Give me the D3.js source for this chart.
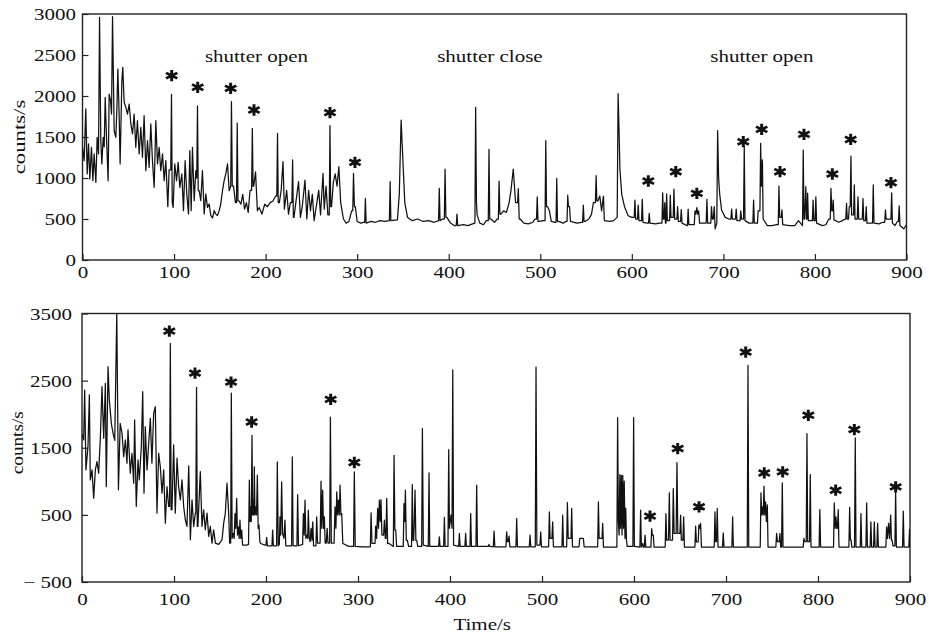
<!DOCTYPE html>
<html>
<head>
<meta charset="utf-8">
<script src="https://cdn.jsdelivr.net/npm/d3@7"></script>
<style>
    body { margin: 0; background: #fff; }
    svg text { font-family: "Liberation Serif", "Times New Roman", serif; fill: #111; }
</style>
</head>
<body>
<div id="chart"></div>
<script>

// ---- data (time in s, counts/s) ----
var timeTicks = [0, 100, 200, 300, 400, 500, 600, 700, 800, 900];
var topTicks = [0, 500, 1000, 1500, 2000, 2500, 3000];
var topTickLabels = ["0", "500", "1000", "1500", "2000", "2500", "3000"];
var bottomTicks = [-500, 500, 1500, 2500, 3500];
var bottomTickLabels = ["\u2212 500", "500", "1500", "2500", "3500"];

var shutterLabels = ["shutter open", "shutter close", "shutter open"];
var shutterTimes = [190, 445, 742];

var topSeries = [
    [0,1374],[1.8,1211],[3.6,1842],[5.1,1049],[6.6,1415],[8,988],[9.8,1374],[11.3,967],[12.7,1293],[14.6,947],
    [16,1496],[17.5,1293],[18.6,2959],[20,1455],[21.1,1171],[22.6,1496],[23.7,1380],[24.8,1984],[26.2,1496],[28,967],
    [29.1,2024],[30.6,1943],[31.7,1780],[32.8,2967],[34.6,1577],[36.4,1496],[37.5,1821],[38.6,2329],[40,1780],[41.1,1171],
    [43,2187],[44,2350],[45.5,1923],[47.3,1862],[49.1,1780],[51,1902],[52.8,1659],[54.6,1537],[56.4,1780],[58.2,1374],
    [60,1699],[61.9,1293],[63.7,1618],[65.5,1252],[67.3,1760],[69.2,1089],[71,1455],[72.8,1130],[74.6,1659],[76.4,1211],
    [78.3,886],[80.1,1699],[81.9,1171],[83.7,1374],[85.5,1089],[87.4,1293],[89.2,967],[91,1211],[93.2,650],[94.6,1100],
    [96.4,1100],[97.2,2020],[98,700],[99,642],[100.8,1171],[102.7,967],[104.5,1191],[106.3,886],[108.5,1049],[110.3,602],
    [112.1,1211],[113.9,805],[115.8,561],[117.2,1333],[118.7,602],[120.1,1374],[122,724],[123.8,1089],[124.8,1000],[125.6,1880],
    [126.4,845],[127.4,845],[129.2,724],[131,1089],[132.9,561],[134.7,805],[136.5,642],[138.3,683],[140.2,541],[142,512],
    [143.8,602],[145.6,560],[147.4,541],[149.3,602],[151,683],[152.9,845],[154.7,967],[156.5,1049],[158.4,1171],[160.2,845],
    [161.9,900],[162.7,1930],[163.6,900],[165,900],[167,700],[168.2,700],[169,1670],[169.8,720],[171,720],[173,680],
    [175,800],[177,620],[179,700],[181,580],[183,850],[184.7,850],[185.5,1605],[186.3,900],[187,900],[189,1075],
    [191,600],[193,640],[196,560],[199,680],[202,650],[205,700],[208,720],[211,780],[212.2,780],[213,1545],
    [213.8,700],[215,700],[217,850],[219,1200],[220.5,620],[223,850],[225,560],[227,700],[228.7,700],[229.5,1220],
    [230.3,520],[231,520],[233,700],[236,955],[238,520],[240,650],[243,975],[245,500],[247,850],[249,600],
    [251,800],[253,480],[256,700],[258,850],[260,550],[262.7,1057],[264,620],[266,900],[268,550],[269.5,550],
    [270.3,1638],[271.1,650],[272,650],[274,950],[276,1050],[278,900],[280,1138],[282,700],[285,500],[288,450],
    [291,470],[294,600],[295.2,600],[296,1057],[297,650],[298,650],[300,470],[304,450],[307,460],[308.2,460],
    [309,750],[309.8,450],[315,470],[320,460],[325,480],[330,470],[335.2,480],[336,955],[336.8,480],[344,490],
    [346,800],[348,1707],[350,1200],[352,700],[355,520],[360,480],[366,500],[372,470],[378,480],[384,460],
    [388.9,480],[389.7,875],[390.5,480],[393,500],[395.2,500],[396,1108],[396.9,520],[398,520],[402,450],[406,420],
    [408.2,420],[409,560],[409.8,420],[416,430],[421,420],[426,440],[428.6,450],[429.4,1862],[430.3,700],[431,550],
    [434,450],[438,430],[441,480],[443.2,480],[444,1350],[444.8,500],[446,500],[450,460],[453,500],[454.2,500],
    [455,963],[455.9,560],[457,560],[460,600],[463,580],[466,700],[468,850],[470.5,1108],[473,700],[475.2,700],
    [476,870],[477,500],[478,500],[482,450],[487,440],[492,460],[494,500],[495.9,500],[496.7,770],[497.5,470],
    [499,470],[503,480],[505.2,480],[506,1455],[506.8,650],[508,650],[510,600],[512,470],[516,460],[517.2,460],
    [518,995],[518.8,470],[520,470],[525,450],[528,470],[529.2,470],[530,790],[530.8,650],[532,650],[533,470],
    [540,450],[545,460],[546.2,460],[547,670],[547.8,470],[549,470],[553,500],[556,560],[558,700],[560.2,700],
    [561,1028],[561.8,720],[563,720],[565,780],[567,600],[569,780],[570,480],[576,470],[580,480],[584,520],
    [585,2030],[586,1600],[587,1100],[589,800],[592,650],[596,540],[600,520],[602.6,520],[603.4,731],[604.2,500],
    [606.2,500],[607,670],[607.8,480],[610.6,480],[611.4,740],[612.2,460],[617,450],[618.2,450],[619,570],[619.8,450],
    [626,440],[630,450],[632.9,450],[633.7,820],[634.5,500],[635.3,500],[636,700],[636.7,450],[637.3,450],[638,805],
    [638.8,480],[641.2,480],[642,790],[642.8,520],[645.2,520],[646,864],[646.8,500],[648,500],[649.2,500],[650,650],
    [650.8,470],[653.2,470],[654,615],[654.8,450],[660,420],[660.7,420],[661.5,620],[662.3,430],[666,430],[668.2,430],
    [669,600],[670,560],[671,640],[672,560],[673,600],[674,450],[680,450],[681.2,450],[682,740],[682.8,450],
    [686.2,450],[687,650],[688,500],[689,500],[690,650],[691,380],[692.8,450],[693.7,1577],[694.8,1000],[696,800],
    [698,610],[702,520],[706,500],[708.2,500],[709,620],[709.8,500],[713.2,500],[714,620],[714.8,480],[718.2,480],
    [719,600],[719.8,500],[722,500],[722.8,1390],[723.6,480],[728,450],[731,450],[732.2,450],[733,730],[733.8,450],
    [737.2,450],[738,600],[739.9,600],[740.7,1423],[741.5,900],[742.6,1220],[743.4,500],[748,420],[753,420],[758,430],
    [759.9,430],[760.7,902],[761.5,520],[763.2,520],[764,610],[764.8,430],[772,420],[778,420],[782,480],[786.4,420],
    [787.2,1341],[788,500],[788.8,500],[790,895],[790.8,500],[791.4,500],[792,815],[792.8,480],[797.2,480],[798,730],
    [798.8,480],[800.2,480],[801,770],[801.8,450],[808,420],[812,430],[815,500],[816.7,500],[817.5,874],[818.4,600],
    [819.2,600],[820,730],[820.8,490],[826,460],[830,480],[833,500],[833.7,500],[834.5,690],[835.3,500],[836.7,500],
    [837.5,650],[838.5,650],[839.3,1268],[840.1,550],[842.2,550],[843,915],[843.8,500],[846.2,500],[847,770],[847.8,500],
    [851.7,500],[852.5,750],[853.3,480],[855.2,480],[856,650],[856.8,450],[862.9,450],[863.7,915],[864.5,450],[870,440],
    [874,460],[876.2,460],[877,610],[877.8,500],[883,500],[883.8,820],[884.6,450],[887.4,420],[890,470],[891.2,470],
    [892,660],[892.8,420],[897,380],[900,430]
];

var bottomSeries = [
    [0,1700],[1.8,1616],[2.9,2360],[4.3,1170],[6.5,1517],[8,2286],[9,1021],[10.9,1170],[12.7,749],[14.5,1170],
    [16.3,1294],[18.1,1120],[20,1666],[21.7,2410],[23.6,1641],[25.4,2459],[26.4,922],[28.3,2707],[29.7,2211],[31.9,1860],
    [34,1700],[35.6,1611],[37.8,3500],[39.6,873],[41.5,1864],[43.5,1716],[45.3,1368],[47.1,1616],[48.9,1270],[50,1765],
    [52.5,1121],[54.3,1418],[56.2,972],[57.2,1914],[59,625],[60.9,1319],[62.3,1021],[64.5,1517],[66,2335],[67.4,823],
    [68.8,1815],[70.7,1170],[72.5,1567],[74.3,1939],[76,1270],[77.9,2013],[79.7,2112],[81.5,526],[83.3,1418],[85.1,1220],
    [87,823],[88.8,1170],[90.6,377],[92.4,922],[94.2,625],[95.2,625],[96,3054],[96.9,575],[97.8,575],[99.6,1542],
    [101.4,526],[103.3,1344],[105,922],[106.9,724],[108.7,1021],[110.5,625],[112.3,427],[114.1,328],[116,1230],[117.8,129],
    [119.6,724],[121.4,328],[123.2,526],[123.7,526],[124.5,2400],[125.3,328],[126,328],[128.6,1145],[130.4,328],[132.2,575],
    [134,278],[135.9,526],[137.7,179],[139.5,328],[141.3,80],[143.1,278],[145,80],[148.6,60],[152.2,129],[154,377],
    [155.8,526],[157.6,972],[159.4,526],[160.5,80],[161.6,80],[162.3,2315],[163.2,150],[164.5,223],[165.4,150],[166.3,520],
    [167.2,300],[168.1,744],[169,200],[170,322],[170.8,150],[171.7,420],[172.6,150],[173.6,273],[174.5,50],[179,50],
    [181,60],[181.9,1016],[182.6,400],[183.3,620],[184,400],[184.8,1685],[185.5,500],[186.2,719],[186.8,500],[187.3,1215],
    [188,500],[188.8,620],[189.7,500],[190.6,1091],[191.5,300],[192.4,347],[193.3,100],[194.2,74],[199,50],[200,50],
    [200.7,164],[201.5,40],[206.5,40],[207.2,273],[208,40],[211.5,40],[212.3,1289],[213.3,40],[214.5,60],[215.2,471],
    [216,200],[217,991],[218,223],[219.5,150],[220.6,420],[221.5,40],[227.8,40],[228.6,1363],[229.5,40],[233.6,40],
    [234.4,803],[235.3,40],[239.8,60],[240.6,520],[241.5,200],[242.4,719],[243.3,150],[244.2,200],[245.3,150],[246,570],
    [247,150],[248,100],[249,300],[250,120],[250.8,397],[251.7,40],[254.3,40],[255.1,471],[256,80],[258.8,80],
    [259.8,1001],[260.6,300],[261.6,867],[262.5,300],[263.4,470],[264.3,80],[265.5,80],[266.5,300],[267.4,80],[269.2,80],
    [270,1958],[271,80],[274,80],[275,620],[276,300],[276.9,843],[277.8,500],[278.7,719],[279.6,500],[280.5,942],
    [281.4,500],[282.3,520],[283.5,74],[290,30],[295.2,30],[296,1140],[297,30],[305,25],[313.4,25],[314.2,530],
    [315.2,74],[318.5,74],[319.2,332],[320.2,150],[321.4,595],[322.3,300],[323.2,719],[324.1,400],[325,729],[326,200],
    [327.8,200],[328.7,421],[329.7,150],[330.4,150],[331.2,744],[332.2,74],[333.7,74],[338.4,30],[339.2,1388],[340.1,273],
    [341,273],[342,30],[349.2,30],[350,669],[350.8,400],[351.5,867],[352.5,120],[353.7,120],[355,30],[358.2,30],
    [359,952],[359.8,120],[360.5,120],[361.2,400],[362,867],[362.9,120],[363.8,120],[365,30],[369.2,30],[370,1785],
    [371,50],[376.4,30],[377.2,1125],[378,30],[387.6,30],[388.4,174],[389.2,30],[393.1,30],[393.9,461],[394.7,30],
    [397.8,30],[398.6,1472],[399.4,300],[400.2,400],[401.2,500],[402.2,300],[403,2662],[403.9,50],[409.4,30],[410.2,223],
    [411,30],[416.2,30],[417,223],[417.8,30],[421.7,30],[422.5,520],[423.3,30],[428.2,30],[429,942],[429.8,30],
    [441.6,30],[442.4,60],[443.2,30],[447.1,25],[447.9,258],[448.7,25],[460.8,25],[461.6,248],[462.4,100],[463.3,100],
    [464.2,184],[465,25],[471.7,25],[472.5,446],[473.3,25],[486.2,25],[487,198],[487.8,25],[492.7,25],[493.5,2702],
    [494.4,50],[497.8,50],[498.6,248],[499.4,25],[507.2,25],[508,545],[508.8,150],[510.8,150],[511.6,397],[512.4,25],
    [521.7,25],[522.5,496],[523.3,25],[526.8,25],[527.6,684],[528.5,150],[531.5,150],[532.3,595],[533.1,25],[540.2,25],
    [541,149],[545,149],[545.8,25],[560.5,25],[561.3,694],[562.1,150],[565.2,150],[566,372],[566.8,20],[581.4,20],
    [582.2,1948],[583,400],[583.8,200],[584.6,1100],[585.4,300],[586.2,1090],[587,200],[587.8,1090],[588.6,300],[589.4,1001],
    [590.2,150],[591,600],[591.8,124],[592.6,30],[598.8,30],[599.6,1948],[600.4,30],[606.4,20],[607.2,570],[608,20],
    [609.4,74],[610.2,20],[611.2,20],[612,198],[612.8,20],[618.4,20],[619.2,297],[620,198],[621,198],[621.8,20],
    [633.9,20],[634.7,520],[635.5,124],[637.5,124],[638.4,828],[639.2,124],[641.9,124],[642.7,892],[643.6,223],[645.8,223],
    [646.7,1279],[647.6,223],[649.9,223],[650.7,496],[651.5,124],[653.2,124],[654,471],[654.8,20],[666.2,20],[667,332],
    [667.8,99],[669.8,99],[670.5,350],[671.5,300],[672.4,372],[673.3,20],[687.2,20],[688,545],[688.8,100],[689.6,100],
    [690.5,595],[691.3,20],[696.2,20],[697,233],[697.8,20],[706.4,20],[707.2,471],[708,20],[723.1,20],[723.9,2726],
    [724.7,20],[737.2,20],[738,828],[738.8,500],[739.6,620],[740.5,500],[741.3,927],[742.1,500],[743,694],[743.9,400],
    [744.9,650],[745.7,20],[754.2,20],[755,223],[756,100],[757.8,100],[758.6,223],[759.4,20],[760.4,20],[761.2,977],
    [762,20],[783.9,20],[784.7,149],[785.5,100],[787.2,100],[788,1710],[788.8,100],[790.8,100],[791.6,1100],[792.4,20],
    [801.2,20],[802,580],[802.8,20],[816.9,20],[817.7,679],[818.6,300],[819.5,471],[820.4,300],[821.2,300],[822,580],
    [822.8,20],[833.6,20],[834.4,610],[835.2,124],[836,124],[836.8,20],[839.7,20],[840.5,1646],[841.3,20],[845.9,20],
    [846.7,520],[847.5,20],[852.1,20],[852.9,679],[853.7,20],[856.7,20],[857.5,397],[858.3,20],[860.4,20],[861.2,397],
    [862,20],[864,20],[864.8,372],[865.6,20],[873.8,20],[874.6,322],[875.5,150],[876.7,372],[877.8,150],[879,496],
    [879.8,124],[880.6,124],[881.4,40],[883.6,40],[884.4,867],[885.2,20],[891.9,20],[892.7,555],[893.5,20],[898.7,20],
    [899.5,283],[900,20]
];

// peaks marked with an asterisk: [time, height of the mark]
var topStars = [[97.4,2248],[125.8,2106],[161.8,2093],[187.3,1829],[270.3,1797],[297.6,1191],[618,963],[648,1077],
    [671,813],[721.7,1443],[741.8,1593],[761.8,1077],[788,1532],[819,1049],[839,1470],[883,943]];
var bottomStars = [[94.9,3237],[122.8,2612],[162,2478],[184.4,1884],[270.3,2221],[296,1280],[617.4,481],[647.5,1488],
    [670.7,620],[721.4,2924],[741.6,1125],[761.6,1140],[789.5,1983],[819.2,868],[839.5,1771],[884.4,917]];


/*
 * PanelVis - one counts/s vs time panel
 */

PanelVis = function(_svg, _data, _stars, _cfg){
    this.svg = _svg;
    this.data = _data;
    this.stars = _stars;
    this.cfg = _cfg;
    this.initVis();
}

PanelVis.prototype.initVis = function(){
    var vis = this;
    var c = vis.cfg;

    vis.x = d3.scaleLinear().domain([0, 900]).range([c.left, c.right]);
    vis.y = d3.scaleLinear().domain(c.yDomain).range([c.bottom, c.top]);

    vis.g = vis.svg.append("g");

    vis.g.append("clipPath").attr("id", c.id + "-clip")
        .append("rect")
        .attr("x", c.left).attr("y", c.top)
        .attr("width", c.right - c.left).attr("height", c.bottom - c.top);

    // x axis (ticks point inward)
    var xAxis = d3.axisBottom(vis.x)
        .tickValues(timeTicks)
        .tickSizeInner(-6)
        .tickSizeOuter(0)
        .tickPadding(c.xPad);

    var gx = vis.g.append("g")
        .attr("transform", "translate(0," + c.bottom + ")")
        .call(xAxis);

    // y axis
    var yAxis = d3.axisLeft(vis.y)
        .tickValues(c.yTicks)
        .tickFormat(function(d, i){ return c.yLabels[i]; })
        .tickSizeInner(-6)
        .tickSizeOuter(0)
        .tickPadding(c.yPad);

    var gy = vis.g.append("g")
        .attr("transform", "translate(" + c.left + ",0)")
        .call(yAxis);

    [gx, gy].forEach(function(a){
        a.select(".domain").remove();
        a.selectAll("line").attr("stroke", "#222").attr("stroke-width", 1.2);
        a.selectAll("text")
            .style("font-size", "17.5px")
            .attr("fill", "#111")
            .attr("transform", "scale(1.2,1)");
    });

    // frame
    vis.g.append("rect")
        .attr("x", c.left).attr("y", c.top)
        .attr("width", c.right - c.left)
        .attr("height", c.bottom - c.top)
        .attr("fill", "none")
        .attr("stroke", "#222")
        .attr("stroke-width", 1.4);

    // y label
    vis.g.append("text")
        .attr("transform", "translate(" + c.labelX + "," + ((c.top + c.bottom) / 2 + c.labelShift) + ") rotate(-90) scale(" + c.labelStretch + ",1)")
        .attr("text-anchor", "middle")
        .style("font-size", "17.5px")
        .text("counts/s");

    vis.updateVis();
}

PanelVis.prototype.updateVis = function(){
    var vis = this;

    var line = d3.line()
        .x(function(d){ return vis.x(d[0]); })
        .y(function(d){ return vis.y(d[1]); });

    vis.g.append("path")
        .datum(vis.data)
        .attr("clip-path", "url(#" + vis.cfg.id + "-clip)")
        .attr("d", line)
        .attr("fill", "none")
        .attr("stroke", "#111")
        .attr("stroke-width", 1.25)
        .attr("stroke-linejoin", "round");

    var star = d3.symbol().type(d3.symbolAsterisk).size(90);

    vis.g.selectAll(".star")
        .data(vis.stars)
        .enter().append("path")
        .attr("class", "star")
        .attr("d", star)
        .attr("transform", function(d){
            return "translate(" + vis.x(d[0]) + "," + vis.y(d[1]) + ") scale(1.15,1)";
        })
        .attr("fill", "none")
        .attr("stroke", "#111")
        .attr("stroke-width", 2.6);
}


var svg = d3.select("#chart").append("svg")
    .attr("width", 929)
    .attr("height", 635);

var topVis = new PanelVis(svg, topSeries, topStars, {
    id: "top", left: 82.5, right: 906.5, top: 14, bottom: 260,
    yDomain: [0, 3000], yTicks: topTicks, yLabels: topTickLabels,
    xPad: 6, yPad: 5.4, labelX: 25, labelShift: 0, labelStretch: 1.3
});

var bottomVis = new PanelVis(svg, bottomSeries, bottomStars, {
    id: "bottom", left: 82, right: 910, top: 313.5, bottom: 582,
    yDomain: [-500, 3500], yTicks: bottomTicks, yLabels: bottomTickLabels,
    xPad: 11, yPad: 8.3, labelX: 23, labelShift: -5, labelStretch: 1.1
});

// shutter annotations in the upper panel
svg.selectAll(".shutter")
    .data(shutterLabels)
    .enter().append("text")
    .attr("class", "shutter")
    .attr("transform", function(d, i){
        return "translate(" + topVis.x(shutterTimes[i]) + "," + topVis.y(2418) + ") scale(1.2,1)";
    })
    .attr("text-anchor", "middle")
    .style("font-size", "17.5px")
    .text(function(d){ return d; });

// x label
svg.append("text")
    .attr("transform", "translate(" + bottomVis.x(435) + ",630) scale(1.2,1)")
    .attr("text-anchor", "middle")
    .style("font-size", "17.5px")
    .text("Time/s");

</script>
</body>
</html>
